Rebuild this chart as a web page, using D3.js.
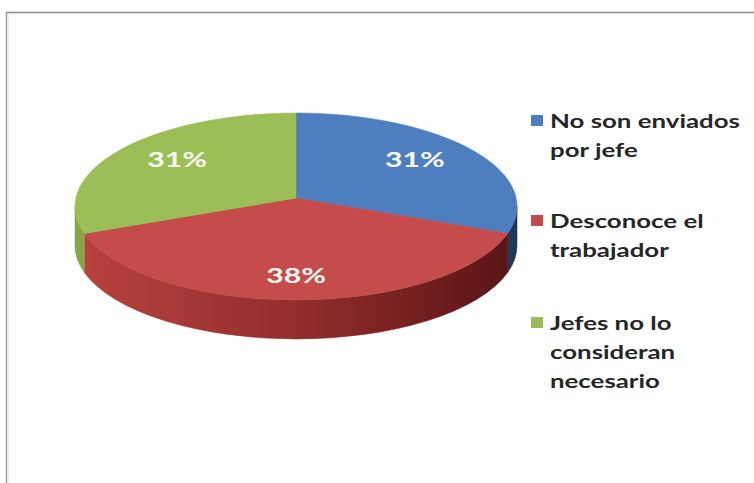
<!DOCTYPE html>
<html>
<head>
<meta charset="utf-8">
<script src="https://cdn.jsdelivr.net/npm/d3@7"></script>
<style>
  html, body { margin: 0; padding: 0; background: #ffffff; }
  svg { display: block; }
</style>
</head>
<body>
<svg id="chart" width="754" height="483"></svg>
<script>
// Data
const categories = ["No son enviados por jefe", "Desconoce el trabajador", "Jefes no lo consideran necesario"];
const legendLines = [["No son enviados", "por jefe"], ["Desconoce el", "trabajador"], ["Jefes no lo", "consideran", "necesario"]];
const values = [31, 38, 31];
const valueLabels = ["31%", "38%", "31%"];

// Styling
const topColors = ["#4c7ec0", "#c44d4b", "#9bbe56"];
const sideStops = [
  ["#3d689e", "#2c4c78", "#1f3656"],
  ["#b8423f", "#922e2c", "#571414"],
  ["#86a647", "#6f8c38", "#4f6627"]
];

const svg = d3.select("#chart");
const W = 754, H = 483;

// Chart frame
svg.append("rect").attr("x", 0).attr("y", 0).attr("width", W).attr("height", H).attr("fill", "#ffffff");
svg.append("line").attr("x1", 6).attr("x2", W).attr("y1", 12.5).attr("y2", 12.5).attr("stroke", "#8a8a8a").attr("stroke-width", 1.5);
svg.append("line").attr("x1", 7).attr("x2", W).attr("y1", 14).attr("y2", 14).attr("stroke", "#e6e6e6").attr("stroke-width", 1);
svg.append("line").attr("x1", 6.5).attr("x2", 6.5).attr("y1", 12).attr("y2", H).attr("stroke", "#a0a0a0").attr("stroke-width", 1.5);
svg.append("line").attr("x1", 8).attr("x2", 8).attr("y1", 14).attr("y2", H).attr("stroke", "#e2e2e2").attr("stroke-width", 1);

// Tilted pie geometry
const cx = 296, cy = 206.5, rx = 221, ry = 93.5, depth = 39;
const persp = 0.09; // front of the disc appears larger than the back
const sq = Math.sqrt(1 - persp * persp);

// Project a point of the flat disc (angle clockwise from 12 o'clock, radial fraction f)
function proj(a, f) {
  const u = f * Math.sin(a), v = -f * Math.cos(a);
  const den = 1 - persp * v;
  return [cx + rx * u * sq / den, cy + ry * (v - persp) / den];
}
// Angle of a projected rim point on the screen ellipse
function screenAngle(p) {
  let t = Math.atan2((p[0] - cx) / rx, -(p[1] - cy) / ry);
  if (t < 0) t += 2 * Math.PI;
  return t;
}

const pie = d3.pie().sort(null).value(d => d);
const arcs = pie(values);

const defs = svg.append("defs");
sideStops.forEach((stops, i) => {
  const g = defs.append("linearGradient")
    .attr("id", "side" + i)
    .attr("gradientUnits", "userSpaceOnUse")
    .attr("x1", cx - rx).attr("x2", cx + rx).attr("y1", 0).attr("y2", 0);
  g.append("stop").attr("offset", "0%").attr("stop-color", stops[0]);
  g.append("stop").attr("offset", "50%").attr("stop-color", stops[1]);
  g.append("stop").attr("offset", "100%").attr("stop-color", stops[2]);
});

// Side walls: only the front half of the rim is visible
const visFrom = Math.acos(-persp), visTo = 2 * Math.PI - Math.acos(-persp);
const sideG = svg.append("g");
arcs.forEach((d, i) => {
  const s = Math.max(d.startAngle, visFrom), e = Math.min(d.endAngle, visTo);
  if (e <= s) return;
  const p0 = proj(s, 1), p1 = proj(e, 1);
  const path = `M${p0[0]},${p0[1]} A${rx},${ry} 0 0 1 ${p1[0]},${p1[1]}` +
    ` L${p1[0]},${p1[1] + depth} A${rx},${ry} 0 0 0 ${p0[0]},${p0[1] + depth} Z`;
  sideG.append("path").attr("d", path).attr("fill", `url(#side${i})`)
    .attr("stroke", `url(#side${i})`).attr("stroke-width", 0.6);
});

// Top faces
const topG = svg.append("g");
const c0 = proj(0, 0);
arcs.forEach((d, i) => {
  const p0 = proj(d.startAngle, 1), p1 = proj(d.endAngle, 1);
  const t0 = screenAngle(p0);
  let t1 = screenAngle(p1);
  if (t1 <= t0) t1 += 2 * Math.PI;
  const large = (t1 - t0) > Math.PI ? 1 : 0;
  const path = `M${c0[0]},${c0[1]} L${p0[0]},${p0[1]} A${rx},${ry} 0 ${large} 1 ${p1[0]},${p1[1]} Z`;
  topG.append("path").attr("d", path).attr("fill", topColors[i])
    .attr("stroke", topColors[i]).attr("stroke-width", 0.6);
});

const font = "Lato, 'Open Sans', sans-serif";

// Horizontal stretch of the lettering, from the width of the first legend line
const probe = svg.append("text").attr("font-family", font).attr("font-weight", 700)
  .attr("font-size", 18).text(legendLines[0][0]);
const stretch = 190 / probe.node().getComputedTextLength();
probe.remove();

// Value labels
const labelG = svg.append("g");
arcs.forEach((d, i) => {
  const mid = (d.startAngle + d.endAngle) / 2;
  const p = proj(mid, 0.78);
  const x = cx + (p[0] - cx) * 0.87;
  labelG.append("text")
    .attr("transform", `translate(${x},${p[1]}) scale(${stretch},1)`)
    .attr("text-anchor", "middle")
    .attr("dy", "0.36em")
    .attr("font-family", font).attr("font-weight", 700).attr("font-size", 21)
    .attr("fill", "#fbf7f2")
    .text(valueLabels[i]);
});

// Legend
const legendG = svg.append("g");
const groupTop = [128, 228, 330];
legendLines.forEach((lines, i) => {
  legendG.append("rect")
    .attr("x", 531).attr("y", groupTop[i] - 13)
    .attr("width", 12).attr("height", 11)
    .attr("fill", topColors[i]);
  const t = legendG.append("text")
    .attr("transform", `translate(550,${groupTop[i]}) scale(${stretch},1)`)
    .attr("font-family", font).attr("font-weight", 700).attr("font-size", 18)
    .attr("fill", "#262626");
  lines.forEach((ln, j) => {
    t.append("tspan").attr("x", 0).attr("y", j * 29).text(ln);
  });
});
</script>
</body>
</html>
